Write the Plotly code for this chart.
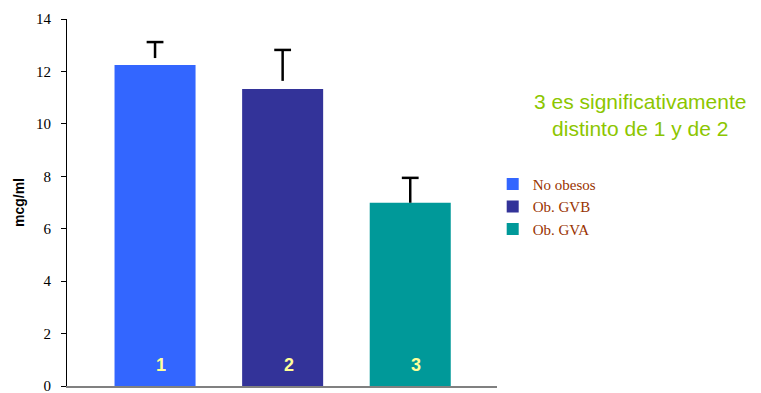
import plotly.graph_objects as go

groups = ["No obesos", "Ob. GVB", "Ob. GVA"]
positions = [1, 2, 3]
bar_labels = ["1", "2", "3"]
values = [12.25, 11.33, 6.99]
err_low = [12.51, 11.64, 6.99]
err_high = [13.12, 12.82, 7.94]
colors = ["#3366FF", "#333399", "#009999"]
yticks = [0, 2, 4, 6, 8, 10, 12, 14]

fig = go.Figure()
for g, x, v, c in zip(groups, positions, values, colors):
    fig.add_trace(go.Bar(x=[x], y=[v], name=g, marker=dict(color=c, line=dict(width=0)),
                         width=0.635))

# error bars: stem (no caps) + top cap marker
fig.add_trace(go.Scatter(
    x=positions, y=err_high, mode="markers",
    marker=dict(symbol="line-ew-open", size=12, color="black", line=dict(width=2.5, color="black")),
    showlegend=False, hoverinfo="skip",
    error_y=dict(type="data", symmetric=False, array=[0, 0, 0],
                 arrayminus=[h - l for h, l in zip(err_high, err_low)],
                 color="black", thickness=2.5, width=0)))

for x, t in zip(positions, bar_labels):
    fig.add_annotation(x=x, y=0.8, text="<b>" + t + "</b>", showarrow=False, xshift=6,
                       font=dict(family="Liberation Sans, Arial", size=18, color="#FFFF99"))

fig.add_annotation(xref="paper", yref="paper", x=1.333, y=0.738, xanchor="center", yanchor="middle",
                   text="3 es significativamente<br>distinto de 1 y de 2", showarrow=False,
                   align="center",
                   font=dict(family="Liberation Sans, Arial", size=21, color="#8CC600"))

fig.update_layout(
    width=761, height=393,
    margin=dict(l=67, r=264, t=19, b=7),
    paper_bgcolor="white", plot_bgcolor="white",
    barmode="overlay",
    showlegend=True,
    legend=dict(x=0.99, y=0.595, xanchor="left", yanchor="top",
                font=dict(family="Liberation Serif, Times New Roman", size=15, color="#993300"),
                tracegroupgap=0, itemwidth=30, bgcolor="rgba(0,0,0,0)"),
    xaxis=dict(range=[0.31, 3.68], showticklabels=False, ticks="", showgrid=False,
               zeroline=False, showline=True, linecolor="#808080", linewidth=2,
               automargin=False),
    yaxis=dict(range=[0, 14], tickvals=yticks, showgrid=False, zeroline=False,
               showline=True, linecolor="black", linewidth=1, ticks="outside",
               ticklen=5, tickcolor="black", ticklabeloverflow="allow", ticklabelstandoff=7,
               automargin=False,
               tickfont=dict(family="Liberation Serif, Times New Roman", size=15, color="black"),
               title=dict(text="<b>mcg/ml</b>", standoff=8,
                          font=dict(family="Liberation Sans, Arial", size=14, color="black"))),
)

fig.write_html("out.html")
